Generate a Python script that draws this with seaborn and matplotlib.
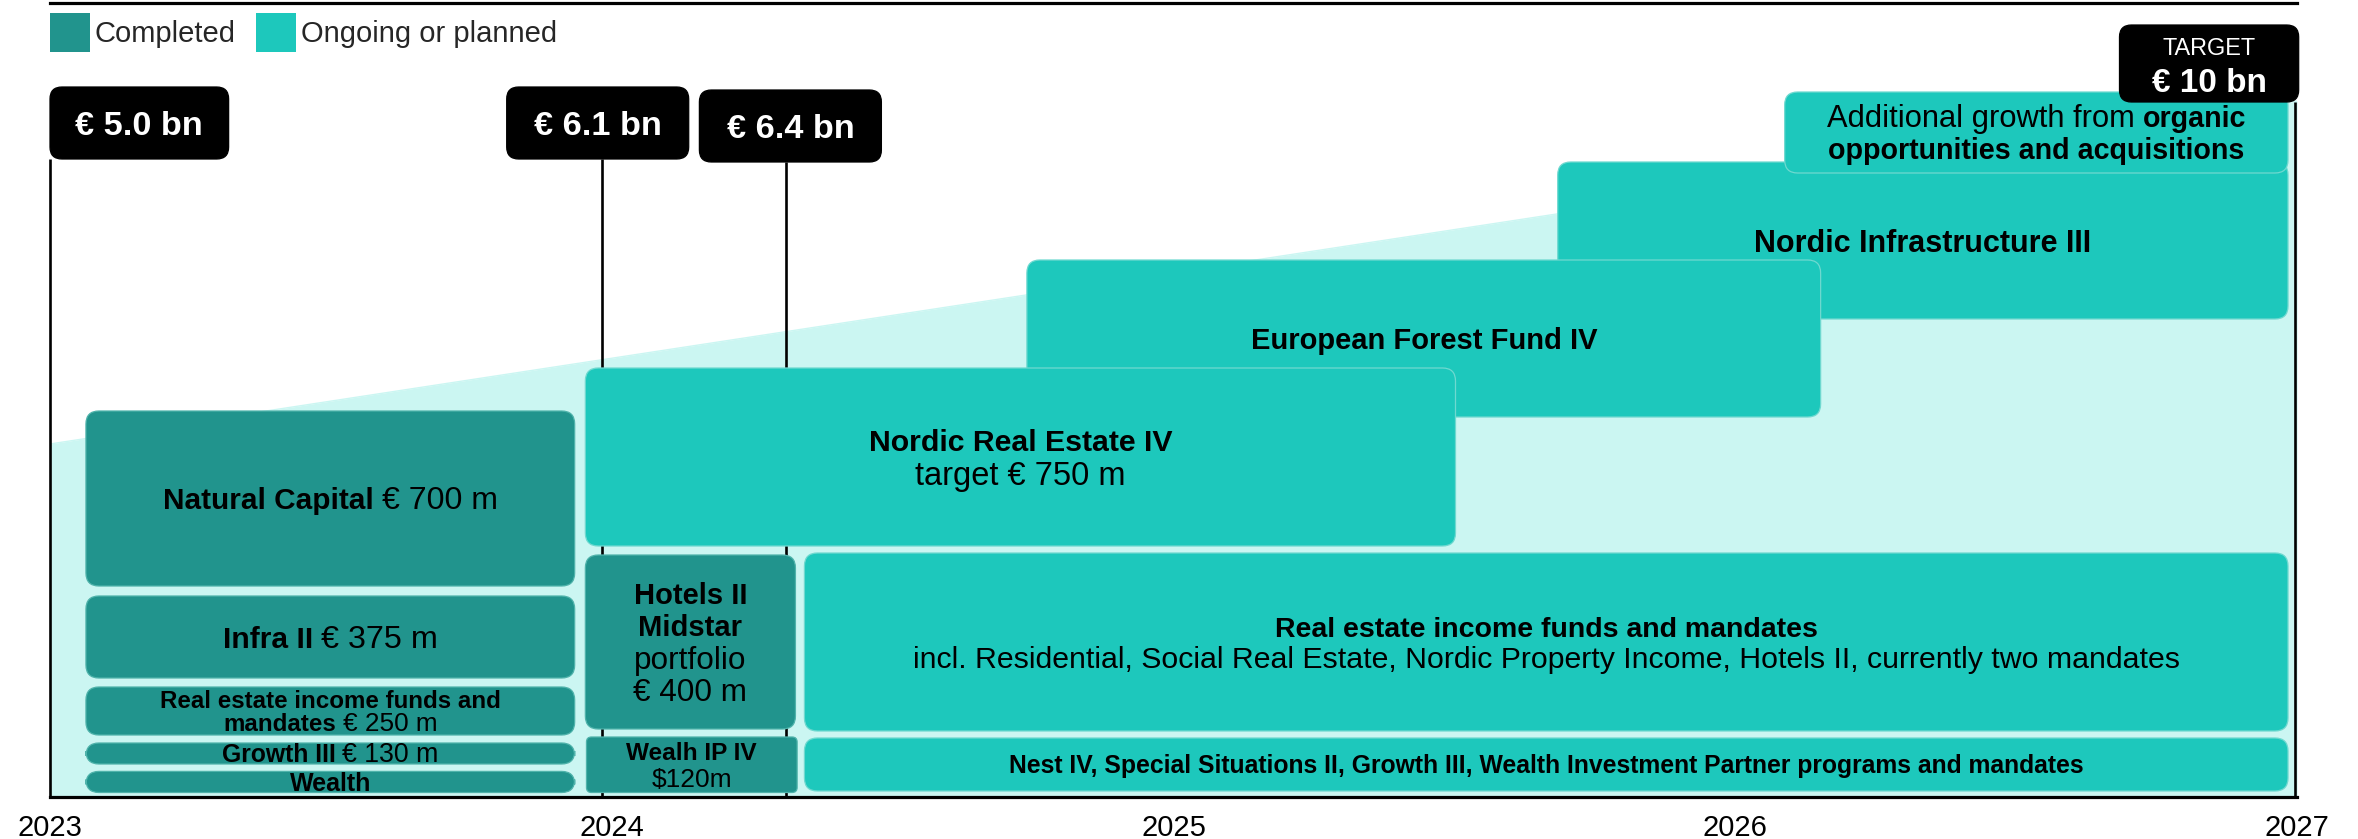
"""
Capital raising roadmap 2023-2027: completed vs ongoing / planned funds
"""

import matplotlib
matplotlib.use('Agg')
import matplotlib.pyplot as plt
import matplotlib.transforms as mtransforms
from matplotlib.patches import FancyBboxPatch, Patch
import seaborn as sns

# ---- data -------------------------------------------------------------
years = [2023, 2024, 2025, 2026, 2027]

# growth band behind the funds (chart units above the axis)
growth_years = [2023, 2027]
growth_top = [353, 696]

# fund boxes, drawn in this order (later ones on top)
box_status = ['Ongoing', 'Ongoing', 'Ongoing', 'Ongoing',
              'Completed', 'Completed', 'Completed', 'Completed', 'Completed',
              'Completed', 'Completed', 'Ongoing', 'Ongoing']
box_start = [2025.684, 2026.088, 2024.739, 2023.953,
             2023.064, 2023.064, 2023.064, 2023.064, 2023.064,
             2023.953, 2023.955, 2024.343, 2024.343]
box_end = [2026.984, 2026.984, 2026.152, 2025.502,
           2023.934, 2023.934, 2023.934, 2023.934, 2023.934,
           2024.327, 2024.330, 2026.984, 2026.984]
box_bottom = [478, 624, 380, 251,
              211, 119, 62, 33, 4.5,
              68, 4.5, 66, 6]
box_top = [635, 705, 537, 429,
           386, 201, 110, 54, 25.6,
           242, 60, 244, 59]
box_size = [22, 20.6, 21, 21.8,
            21.4, 21.6, 17.4, 17.8, 18,
            21, 17.6, [20.5, 20.2], 17.8]
box_spacing = [1.2, 1.1, 1.2, 1.1,
               1.2, 1.2, 0.96, 1.2, 1.2,
               1.1, 1.1, 1.1, 1.2]
# each label: lines -> parts (text, weight)
box_labels = [
    [[('Nordic Infrastructure III', 'bold')]],
    [[('Additional growth from', 'normal'), ('organic', 'bold')],
     [('opportunities and acquisitions', 'bold')]],
    [[('European Forest Fund IV', 'bold')]],
    [[('Nordic Real Estate IV', 'bold')], [('target € 750 m', 'normal')]],
    [[('Natural Capital', 'bold'), ('€ 700 m', 'normal')]],
    [[('Infra II', 'bold'), ('€ 375 m', 'normal')]],
    [[('Real estate income funds and', 'bold')],
     [('mandates', 'bold'), ('€ 250 m', 'normal')]],
    [[('Growth III', 'bold'), ('€ 130 m', 'normal')]],
    [[('Wealth', 'bold')]],
    [[('Hotels II', 'bold')], [('Midstar', 'bold')],
     [('portfolio', 'normal')], [('€ 400 m', 'normal')]],
    [[('Wealh IP IV', 'bold')], [('$120m', 'normal')]],
    [[('Real estate income funds and mandates', 'bold')],
     [('incl. Residential, Social Real Estate, Nordic Property Income, '
       'Hotels II, currently two mandates', 'normal')]],
    [[('Nest IV, Special Situations II, Growth III, '
       'Wealth Investment Partner programs and mandates', 'bold')]],
]

# AUM milestones (black tags)
tag_line_x = [2023.0, 2023.982, 2024.311, 2026.997]
tag_start = [2023.0, 2023.813, 2024.156, 2026.684]
tag_end = [2023.318, 2024.137, 2024.480, 2027.003]
tag_bottom = [638, 638, 635, 695]
tag_top = [710, 710, 707, 772]
tag_labels = [
    [[('€ 5.0 bn', 'bold')]],
    [[('€ 6.1 bn', 'bold')]],
    [[('€ 6.4 bn', 'bold')]],
    [[('TARGET', 'normal')], [('€ 10 bn', 'bold')]],
]
tag_sizes = [24.7, 24.7, 24.7, [15.7, 24]]

COLORS = {'Completed': '#21948D', 'Ongoing': '#1DC8BC'}
LIGHT = '#CBF6F2'
FONT = ['Liberation Sans', 'DejaVu Sans']
REG = 1.08  # regular text runs a little larger than bold in the original

# ---- figure -----------------------------------------------------------
sns.set_theme(style='white')
plt.rcParams['font.family'] = FONT

W, H, DPI = 2358, 839, 100
fig = plt.figure(figsize=(W / DPI, H / DPI), dpi=DPI)
ax = fig.add_axes([50 / W, 42 / H, 2247 / W, 794 / H])
ax.set_xlim(2023, 2027)
ax.set_ylim(0, 794)

PX_PER_YEAR = 2247 / 4  # y unit == 1 px, used to keep corners round
renderer = fig.canvas.get_renderer()


def put_text(x, y, lines, sizes, color='black', spacing=1.2, z=6):
    n = len(lines)
    if not isinstance(sizes, list):
        sizes = [sizes] * n
    lh = max(sizes) * spacing
    for i, parts in enumerate(lines):
        size = sizes[i]
        gap = 0.278 * size
        dy = ((n - 1) / 2 - i) * lh - 0.36 * size
        arts, widths = [], []
        for s, w in parts:
            fs = size * (REG if w == 'normal' else 1.0)
            t = ax.text(x, y, s, fontsize=fs, fontweight=w, color=color,
                        family=FONT, ha='left', va='baseline', zorder=z,
                        clip_on=False)
            widths.append(t.get_window_extent(renderer=renderer).width * 72 / DPI)
            arts.append(t)
        total = sum(widths) + gap * (len(parts) - 1)
        dx = -total / 2
        for t, wd in zip(arts, widths):
            t.set_transform(ax.transData + mtransforms.ScaledTranslation(
                dx / 72, dy / 72, fig.dpi_scale_trans))
            dx += wd + gap


def rbox(x0, x1, y0, y1, color, radius_px, edge, z):
    r = radius_px / PX_PER_YEAR
    p = FancyBboxPatch((x0, y0), x1 - x0, y1 - y0,
                       boxstyle=f'round,pad=0,rounding_size={r}',
                       mutation_aspect=PX_PER_YEAR,
                       fc=color, ec=edge, lw=0.9, zorder=z, clip_on=False)
    ax.add_patch(p)


# growth band
ax.fill_between(growth_years, 0, growth_top, color=LIGHT, lw=0, zorder=1)
sns.lineplot(x=growth_years, y=growth_top, color=LIGHT, lw=1, ax=ax, zorder=1)

# milestone lines
for lx, yb in zip(tag_line_x, tag_bottom):
    ax.plot([lx, lx], [0, yb], color='black', lw=1.9, zorder=2,
            solid_capstyle='butt', clip_on=False)

# fund boxes
for i in range(len(box_status)):
    radius = 5 if box_labels[i][0][0][0].startswith('Wealh') else 13
    edge = '#6fd9d0' if box_status[i] == 'Ongoing' else '#4fb3ab'
    rbox(box_start[i], box_end[i], box_bottom[i], box_top[i],
         COLORS[box_status[i]], radius, edge, 3 + i * 0.01)
    put_text((box_start[i] + box_end[i]) / 2, (box_bottom[i] + box_top[i]) / 2,
             box_labels[i], box_size[i], spacing=box_spacing[i], z=4 + i * 0.01)

# milestone tags
for i in range(len(tag_labels)):
    rbox(tag_start[i], tag_end[i], tag_bottom[i], tag_top[i],
         'black', 12, 'black', 5)
    put_text((tag_start[i] + tag_end[i]) / 2, (tag_bottom[i] + tag_top[i]) / 2,
             tag_labels[i], tag_sizes[i], color='white', spacing=1.0, z=6)

# axes styling
for side in ['left', 'right']:
    ax.spines[side].set_visible(False)
for side in ['top', 'bottom']:
    ax.spines[side].set_visible(True)
    ax.spines[side].set_color('black')
    ax.spines[side].set_linewidth(2.3)
    ax.spines[side].set_zorder(7)
ax.set_xticks(years)
ax.set_xticklabels([str(y) for y in years], fontsize=21, family=FONT)
ax.tick_params(axis='x', length=0, pad=12, colors='black')
ax.set_yticks([])
ax.grid(False)

# legend
handles = [Patch(fc=COLORS['Completed'], ec='none', label='Completed'),
           Patch(fc=COLORS['Ongoing'], ec='none', label='Ongoing or planned')]
fig.legend(handles=handles, loc='upper left', ncol=2, frameon=False,
           bbox_to_anchor=(50 / W, 1 - 13 / H), borderpad=0, borderaxespad=0,
           fontsize=21, handlelength=1.37, handleheight=1.68,
           handletextpad=0.15, columnspacing=0.72)

fig.savefig('out.png', dpi=DPI)
plt.close(fig)
